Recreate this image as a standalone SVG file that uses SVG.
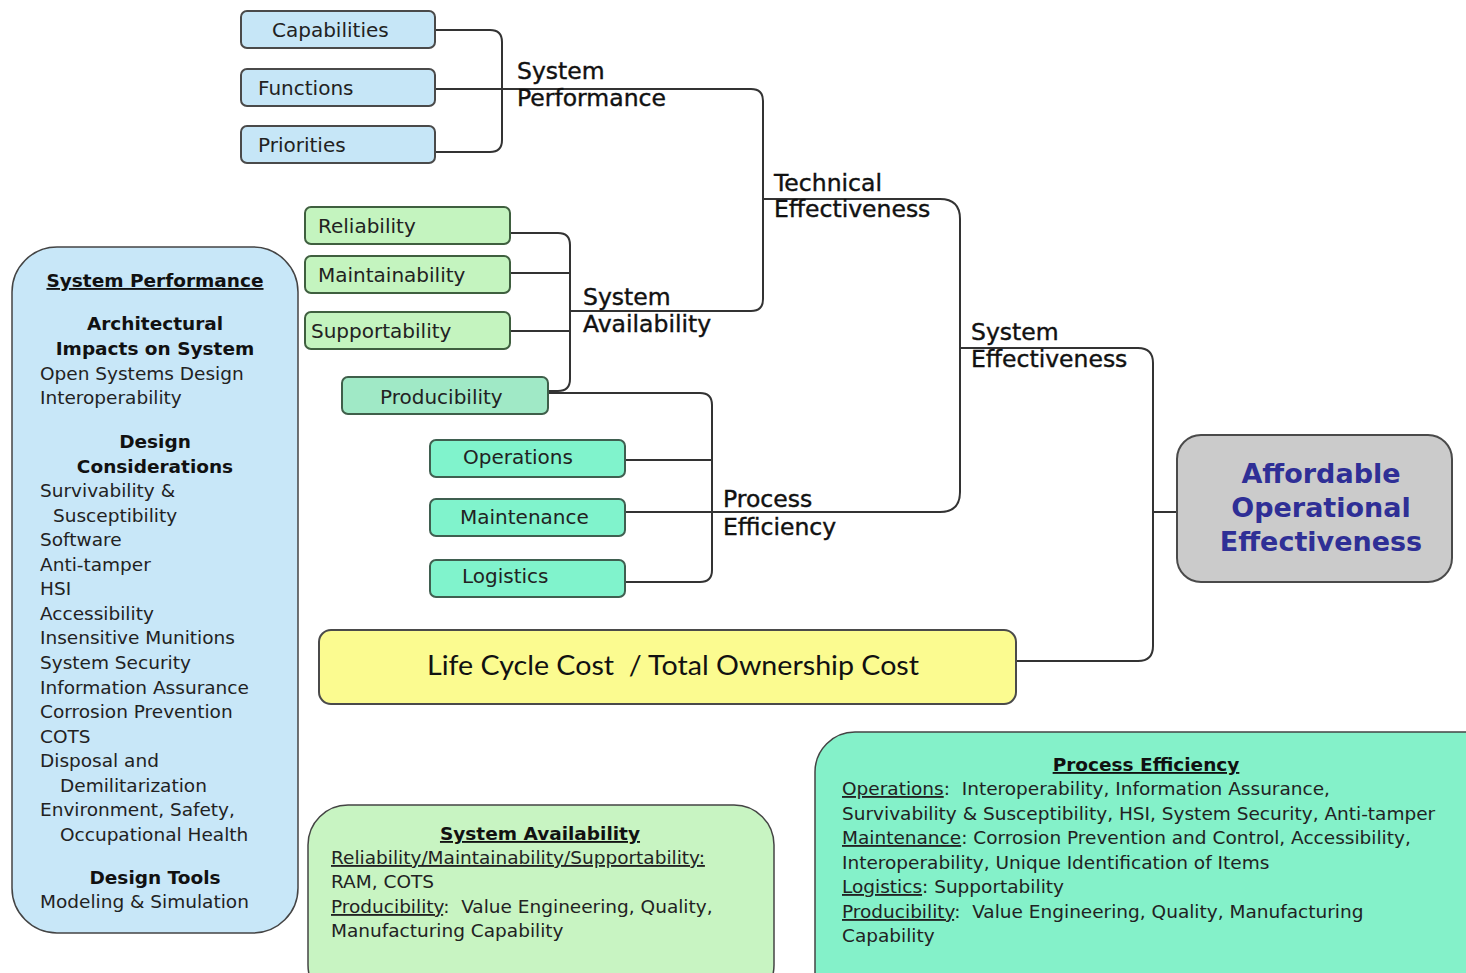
<svg xmlns="http://www.w3.org/2000/svg" width="1466" height="973" viewBox="0 0 1466 973">
  <style>
    .box { stroke: #4a4a4a; stroke-width: 2; }
    .blue { fill: #c6e6f7; }
    .green { fill: #c4f4bf; stroke: #3f5f3f; }
    .prod { fill: #a0e9c6; stroke: #3f5f4a; }
    .teal { fill: #80f3cc; stroke: #3f5f50; }
    .node { font-family: "DejaVu Sans", Verdana, sans-serif; font-size: 20px; fill: #222; }
    .lbl { font-family: "DejaVu Sans", Verdana, sans-serif; font-size: 23.5px; fill: #111; stroke: #111; stroke-width: 0.4; }
    .conn { fill: none; stroke: #333; stroke-width: 2; }
    .panel { font-family: "DejaVu Sans", Verdana, sans-serif; font-size: 18.5px; fill: #222; }
    .hd { font-weight: bold; text-anchor: middle; fill: #111; }
    .ul { text-decoration: underline; }
    .pre { white-space: pre; }
  </style>

  <rect width="1466" height="973" fill="#ffffff"/>

  <!-- connector lines -->
  <g id="connectors" class="conn">
    <path d="M435,30 H490 Q502,30 502,42 V140 Q502,152 490,152 H435"/>
    <path d="M435,89 H751 Q763,89 763,101 V299 Q763,311 751,311 H570"/>
    <path d="M763,199 H940 Q960,199 960,219 V492 Q960,512 940,512 H625"/>
    <path d="M510,233 H558 Q570,233 570,245 V379 Q570,391 558,391 H548"/>
    <path d="M510,273 H570"/>
    <path d="M510,331 H570"/>
    <path d="M548,393 H700 Q712,393 712,405 V570 Q712,582 700,582 H625"/>
    <path d="M625,460 H712"/>
    <path d="M960,348 H1138 Q1153,348 1153,363 V646 Q1153,661 1138,661 H1016"/>
    <path d="M1153,512 H1177"/>
  </g>

  <!-- connector labels -->
  <g id="labels" class="lbl">
    <text x="517" y="79">System</text>
    <text x="517" y="106">Performance</text>
    <text x="774" y="191">Technical</text>
    <text x="774" y="217">Effectiveness</text>
    <text x="583" y="305">System</text>
    <text x="583" y="332">Availability</text>
    <text x="971" y="340">System</text>
    <text x="971" y="367">Effectiveness</text>
    <text x="723" y="507">Process</text>
    <text x="723" y="535">Efficiency</text>
  </g>

  <!-- performance inputs -->
  <g id="capabilities">
    <rect class="box blue" x="241" y="11" width="194" height="37" rx="6"/>
    <text class="node" x="272" y="37">Capabilities</text>
  </g>
  <g id="functions">
    <rect class="box blue" x="241" y="69" width="194" height="37" rx="6"/>
    <text class="node" x="258" y="95">Functions</text>
  </g>
  <g id="priorities">
    <rect class="box blue" x="241" y="126" width="194" height="37" rx="6"/>
    <text class="node" x="258" y="152">Priorities</text>
  </g>

  <!-- availability inputs -->
  <g id="reliability">
    <rect class="box green" x="305" y="207" width="205" height="37" rx="6"/>
    <text class="node" x="318" y="233">Reliability</text>
  </g>
  <g id="maintainability">
    <rect class="box green" x="305" y="256" width="205" height="37" rx="6"/>
    <text class="node" x="318" y="282">Maintainability</text>
  </g>
  <g id="supportability">
    <rect class="box green" x="305" y="312" width="205" height="37" rx="6"/>
    <text class="node" x="311" y="338">Supportability</text>
  </g>
  <g id="producibility">
    <rect class="box prod" x="342" y="377" width="206" height="37" rx="6"/>
    <text class="node" x="380" y="404">Producibility</text>
  </g>

  <!-- process inputs -->
  <g id="operations">
    <rect class="box teal" x="430" y="440" width="195" height="37" rx="6"/>
    <text class="node" x="463" y="464">Operations</text>
  </g>
  <g id="maintenance">
    <rect class="box teal" x="430" y="499" width="195" height="37" rx="6"/>
    <text class="node" x="460" y="524">Maintenance</text>
  </g>
  <g id="logistics">
    <rect class="box teal" x="430" y="560" width="195" height="37" rx="6"/>
    <text class="node" x="462" y="583">Logistics</text>
  </g>

  <!-- cost -->
  <g id="lifecycle-cost">
    <rect x="319" y="630" width="697" height="74" rx="12" fill="#fbfb90" stroke="#4a4a4a" stroke-width="2"/>
    <text class="pre" x="673" y="675" font-family="Lato, 'Liberation Sans', sans-serif" font-size="27" fill="#111" text-anchor="middle" textLength="492" lengthAdjust="spacingAndGlyphs">Life Cycle Cost  / Total Ownership Cost</text>
  </g>

  <!-- outcome -->
  <g id="affordable-effectiveness">
    <rect x="1177" y="435" width="275" height="147" rx="24" fill="#cbcbcb" stroke="#4a4a4a" stroke-width="2"/>
    <g font-family="'DejaVu Sans', Verdana, sans-serif" font-size="27" font-weight="bold" fill="#2f2f96" text-anchor="middle">
      <text x="1321" y="483">Affordable</text>
      <text x="1321" y="517">Operational</text>
      <text x="1321" y="551">Effectiveness</text>
    </g>
  </g>

  <!-- system performance notes -->
  <g id="system-performance-panel" class="panel">
    <rect x="12" y="247" width="286" height="686" rx="45" fill="#c8e7f8" stroke="#444" stroke-width="1.5"/>
    <text class="hd ul" x="155" y="287">System Performance</text>
    <text class="hd" x="155" y="330">Architectural</text>
    <text class="hd" x="155" y="355">Impacts on System</text>
    <text x="40" y="380">Open Systems Design</text>
    <text x="40" y="404">Interoperability</text>
    <text class="hd" x="155" y="448">Design</text>
    <text class="hd" x="155" y="473">Considerations</text>
    <text x="40" y="497">Survivability &amp;</text>
    <text x="53" y="522">Susceptibility</text>
    <text x="40" y="546">Software</text>
    <text x="40" y="571">Anti-tamper</text>
    <text x="40" y="595">HSI</text>
    <text x="40" y="620">Accessibility</text>
    <text x="40" y="644">Insensitive Munitions</text>
    <text x="40" y="669">System Security</text>
    <text x="40" y="694">Information Assurance</text>
    <text x="40" y="718">Corrosion Prevention</text>
    <text x="40" y="743">COTS</text>
    <text x="40" y="767">Disposal and</text>
    <text x="60" y="792">Demilitarization</text>
    <text x="40" y="816">Environment, Safety,</text>
    <text x="60" y="841">Occupational Health</text>
    <text class="hd" x="155" y="884">Design Tools</text>
    <text x="40" y="908">Modeling &amp; Simulation</text>
  </g>

  <!-- system availability notes -->
  <g id="system-availability-panel" class="panel">
    <rect x="308" y="805" width="466" height="200" rx="40" fill="#c8f4c2" stroke="#444" stroke-width="1.5"/>
    <text class="hd ul" x="540" y="840">System Availability</text>
    <text x="331" y="864" class="ul">Reliability/Maintainability/Supportability:</text>
    <text x="331" y="888">RAM, COTS</text>
    <text class="pre" x="331" y="913"><tspan class="ul">Producibility</tspan>:  Value Engineering, Quality,</text>
    <text x="331" y="937">Manufacturing Capability</text>
  </g>

  <!-- process efficiency notes -->
  <g id="process-efficiency-panel" class="panel">
    <rect x="815" y="732" width="690" height="290" rx="40" fill="#84f1c9" stroke="#444" stroke-width="1.5"/>
    <text class="hd ul" x="1146" y="771">Process Efficiency</text>
    <text class="pre" x="842" y="795"><tspan class="ul">Operations</tspan>:  Interoperability, Information Assurance,</text>
    <text x="842" y="820">Survivability &amp; Susceptibility, HSI, System Security, Anti-tamper</text>
    <text x="842" y="844"><tspan class="ul">Maintenance</tspan>: Corrosion Prevention and Control, Accessibility,</text>
    <text x="842" y="869">Interoperability, Unique Identification of Items</text>
    <text x="842" y="893"><tspan class="ul">Logistics</tspan>: Supportability</text>
    <text class="pre" x="842" y="918"><tspan class="ul">Producibility</tspan>:  Value Engineering, Quality, Manufacturing</text>
    <text x="842" y="942">Capability</text>
  </g>
</svg>
